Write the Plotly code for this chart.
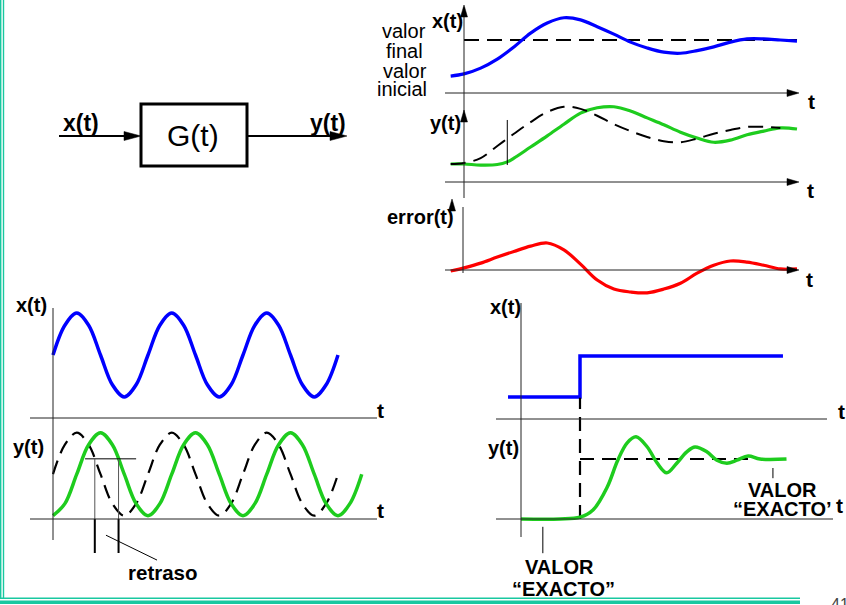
import plotly.graph_objects as go

W, H = 846, 605
FONT = "Liberation Sans, Arial, sans-serif"
BLUE, GREEN, RED, BLACK = "#0000FF", "#1ECC1E", "#FF0000", "#000000"
TEAL = "#18C8A0"
AXC = "#222222"

# ---------------- data : top-right (generic response) ----------------
tr_t = [-0.4, 0, 0.5, 1, 1.5, 2, 2.5, 3, 3.5, 4, 4.5, 5, 5.5, 6, 6.5, 7, 7.5, 8, 8.5, 9, 9.5, 10]
tr_input = [0.32, 0.36, 0.47, 0.64, 0.87, 1.13, 1.32, 1.42, 1.38, 1.25, 1.11, 0.96, 0.85, 0.77,
            0.75, 0.80, 0.87, 0.96, 1.02, 1.02, 1.00, 0.98]
tr_final_value = 1.0
tr_ideal_t = [-0.4, 0, 0.5, 1, 1.5, 2, 2.5, 3, 3.5, 4, 4.5, 5, 5.5, 6, 6.5, 7, 7.5, 8, 8.5, 9, 9.5]
tr_ideal = [0.34, 0.36, 0.45, 0.68, 0.91, 1.13, 1.32, 1.42, 1.38, 1.25, 1.09, 0.96, 0.85, 0.77,
            0.75, 0.82, 0.91, 0.98, 1.04, 1.04, 1.02]
tr_out_t = [-0.4, 0, 0.5, 1, 1.3, 1.5, 2, 2.5, 3, 3.5, 4, 4.5, 5, 5.5, 6, 6.5, 7, 7.5, 8, 8.5, 9, 9.5, 10]
tr_output = [0.34, 0.34, 0.32, 0.33, 0.38, 0.45, 0.66, 0.87, 1.09, 1.30, 1.40, 1.42, 1.34, 1.21,
             1.08, 0.94, 0.83, 0.75, 0.79, 0.89, 0.96, 1.02, 1.00]
tr_delay_t = 1.3
tr_delay_span = [0.32, 1.17]
tr_error = [-0.02, 0.04, 0.13, 0.245, 0.35, 0.45, 0.51, 0.38, 0.11, -0.19, -0.36, -0.415, -0.43,
            -0.36, -0.25, -0.06, 0.09, 0.17, 0.15, 0.09, 0.02, 0.02]

# ---------------- data : bottom-left (sinusoidal input) ----------------
bl_in_t = [i * 0.5 for i in range(25)]
bl_input = [1.5, 2.21, 2.5, 2.21, 1.5, 0.79, 0.5, 0.79,
            1.5, 2.21, 2.5, 2.21, 1.5, 0.79, 0.5, 0.79,
            1.5, 2.21, 2.5, 2.21, 1.5, 0.79, 0.5, 0.79, 1.5]
bl_ideal_t = [i * 0.5 for i in range(25)]
bl_ideal = [1.08, 1.79, 2.08, 1.79, 1.08, 0.37, 0.08, 0.37,
            1.08, 1.79, 2.08, 1.79, 1.08, 0.37, 0.08, 0.37,
            1.08, 1.79, 2.08, 1.79, 1.08, 0.37, 0.08, 0.37, 1.08]
bl_out_t = [i * 0.5 for i in range(27)]
bl_output = [0.08, 0.37, 1.08, 1.79, 2.08, 1.79, 1.08, 0.37,
             0.08, 0.37, 1.08, 1.79, 2.08, 1.79, 1.08, 0.37,
             0.08, 0.37, 1.08, 1.79, 2.08, 1.79, 1.08, 0.37, 0.08, 0.37, 1.08]
bl_retraso_level = 1.45
bl_retraso_t = [1.76, 2.76]

# ---------------- data : bottom-right (step input) ----------------
br_in_t = [-0.22, 1.0, 4.44]
br_input = [0.35, 1.0, 1.0]
br_step_t = 1.0
br_out_t = [0, 0.66, 1.0, 1.22, 1.46, 1.64, 1.8, 1.95, 2.14, 2.31, 2.47, 2.64, 2.81, 2.95,
            3.15, 3.32, 3.49, 3.66, 3.85, 4.05, 4.5]
br_output = [0, 0.0, 0.03, 0.15, 0.53, 0.98, 1.27, 1.37, 1.2, 0.93, 0.77, 0.93, 1.12, 1.2,
             1.12, 0.98, 0.93, 0.98, 1.05, 1.0, 1.0]
br_exact_value = 1.0
br_exact_span = [1.0, 4.05]

fig = go.Figure()


def add_axes(n, box, xo, sx, yo, sy):
    """box = (left, right, top, bottom) in page pixels; origin + pixels per unit."""
    x0, x1, y0, y1 = box
    s = '' if n == 1 else str(n)
    fig.update_layout(**{
        'xaxis' + s: dict(domain=[x0 / W, x1 / W], range=[(x0 - xo) / sx, (x1 - xo) / sx],
                          visible=False, anchor='y' + s, fixedrange=True),
        'yaxis' + s: dict(domain=[1 - y1 / H, 1 - y0 / H], range=[(yo - y1) / sy, (yo - y0) / sy],
                          visible=False, anchor='x' + s, fixedrange=True),
    })
    return 'x' + s, 'y' + s


A = add_axes(1, (440, 805, 0, 100), 464, 33.3, 93, 53)
B = add_axes(2, (440, 805, 98, 192), 464, 33.3, 182, 53)
C = add_axes(3, (440, 805, 195, 300), 464, 33.3, 270, 53)
D = add_axes(4, (25, 385, 295, 425), 53, 23.75, 418, 42)
E = add_axes(5, (25, 385, 420, 565), 53, 23.75, 519, 41.5)
F = add_axes(6, (490, 845, 295, 425), 521, 59, 419, 63)
G = add_axes(7, (490, 845, 388, 565), 521, 59, 519, 60)
P = add_axes(8, (0, W, 0, H), 0, 1, 0, -1)   # page layer for decorations


def line(ax, x, y, color, width, dash=None, shape='linear'):
    fig.add_trace(go.Scatter(x=x, y=y, mode='lines', xaxis=ax[0], yaxis=ax[1],
                             line=dict(color=color, width=width, dash=dash, shape=shape),
                             hoverinfo='skip', showlegend=False))


DASH = "15px,8px"
# top-right
line(A, [tr_t[1], tr_t[-1]], [tr_final_value, tr_final_value], BLACK, 1.8, DASH)
line(A, tr_t, tr_input, BLUE, 3.2, shape='spline')
line(B, tr_out_t, tr_output, GREEN, 3.2, shape='spline')
line(B, tr_ideal_t, tr_ideal, BLACK, 2, DASH, shape='spline')
line(B, [tr_delay_t, tr_delay_t], tr_delay_span, BLACK, 1)
line(C, tr_t, tr_error, RED, 3.2, shape='spline')

# bottom-left
line(D, bl_in_t, bl_input, BLUE, 3.5, shape='spline')
line(E, bl_ideal_t, bl_ideal, BLACK, 2.2, "14px,8px", shape='spline')
line(E, bl_out_t, bl_output, GREEN, 3.5, shape='spline')
line(E, [bl_retraso_t[0] - 0.41, bl_retraso_t[1] + 0.74], [bl_retraso_level] * 2, BLACK, 1)
for tt in bl_retraso_t:
    line(E, [tt, tt], [bl_retraso_level, 0], "#555555", 1)
    line(E, [tt, tt], [0, -0.82], BLACK, 2)
line(E, [2.23, 4.38], [-0.39, -0.99], BLACK, 1)

# bottom-right
line(F, br_in_t, br_input, BLUE, 3.5, shape='hv')
line(G, [br_step_t, br_step_t], [0, 2.02], BLACK, 2.2, "14px,8px")
line(G, br_exact_span, [br_exact_value] * 2, BLACK, 2.2, "14px,8px")
line(G, br_out_t, br_output, GREEN, 3.5, shape='spline')
line(G, [4.27, 4.27], [0.85, 0.68], BLACK, 1)
line(G, [0.37, 0.37], [-0.13, -0.57], BLACK, 1)

# ---------------- decorations (page pixels) ----------------
shapes = []


def seg(x0, y0, x1, y1, color=AXC, width=1):
    shapes.append(dict(type='line', xref='x8', yref='y8', x0=x0, y0=y0, x1=x1, y1=y1,
                       line=dict(color=color, width=width), layer='above'))


def head(tx, ty, d, length=12, half=3.5):
    if d == 'r':
        pts = [(tx, ty), (tx - length, ty - half), (tx - length, ty + half)]
    else:  # up
        pts = [(tx, ty), (tx - half, ty + length), (tx + half, ty + length)]
    path = 'M' + ' L'.join(f'{x},{y}' for x, y in pts) + ' Z'
    shapes.append(dict(type='path', xref='x8', yref='y8', path=path,
                       fillcolor='black', line=dict(color='black', width=0.5), layer='above'))


# top-right axes
seg(464, 7, 464, 198)
seg(463, 207, 463, 273)
for yy in (93, 182, 270):
    seg(445, yy, 797, yy)
    head(799, yy, 'r')
head(464, 5, 'u')
head(464, 110, 'u')
head(452, 199, 'u')
# bottom-left axes
seg(53, 308, 53, 540)
seg(30, 418, 377, 418)
seg(30, 519, 377, 519)
# bottom-right axes
seg(521, 303, 521, 537)
seg(496, 419, 827, 419)
seg(496, 519, 833, 519)
# block diagram
shapes.append(dict(type='rect', xref='x8', yref='y8', x0=141, y0=104, x1=247, y1=166,
                   line=dict(color='black', width=3), layer='above'))
seg(59, 136, 128, 136, 'black', 2)
head(141, 136, 'r', 17, 4.5)
seg(247, 136, 334, 136, 'black', 2)
head(347, 136, 'r', 17, 4.5)
# slide frame
seg(0.7, 0, 0.7, 598, TEAL, 1.4)
seg(3.5, 0, 3.5, 598, TEAL, 1.4)
seg(0, 598.2, 800, 598.2, TEAL, 1.4)
seg(0, 602.2, 800, 602.2, TEAL, 3.6)

annotations = []


def txt(s, x, y, size=20, bold=True, color='black', yanchor='middle'):
    annotations.append(dict(text=f'<b>{s}</b>' if bold else s, x=x, y=y, xref='x8', yref='y8',
                            showarrow=False, xanchor='center', yanchor=yanchor,
                            font=dict(family=FONT, size=size, color=color)))


txt('x(t)', 447, 21, 20)
txt('valor', 404, 31, 20, False)
txt('final', 404, 51, 20, False)
txt('valor', 405, 71, 20, False)
txt('inicial', 402, 89, 20, False)
txt('y(t)', 445, 123, 20)
txt('error(t)', 420, 217, 20)
txt('t', 811, 101, 21)
txt('t', 810, 190, 21)
txt('t', 809, 279, 21)
txt('x(t)', 31, 305, 20)
txt('y(t)', 28, 447, 20)
txt('t', 380, 410, 21)
txt('t', 380, 510, 21)
txt('retraso', 163, 572, 20.5)
txt('x(t)', 505, 307, 20)
txt('y(t)', 503, 448, 20)
txt('t', 841, 411, 21)
txt('VALOR', 782, 490, 20)
txt('\u201cEXACTO\u2019', 782, 509, 20)
txt('t', 839, 505, 21)
txt('VALOR', 559, 567, 20)
txt('\u201cEXACTO\u201d', 563, 589, 20)
txt('G(t)', 193, 135, 30, False)
txt('x(t)', 81, 123, 23)
txt('y(t)', 328, 123, 23)
txt('41', 840, 594, 16, False, '#444444', 'top')

fig.update_layout(width=W, height=H, margin=dict(l=0, r=0, t=0, b=0),
                  paper_bgcolor='white', plot_bgcolor='rgba(0,0,0,0)',
                  showlegend=False, shapes=shapes, annotations=annotations)

fig.write_html("out.html", post_script="document.body.style.margin='0';",
               config={'displayModeBar': False})
